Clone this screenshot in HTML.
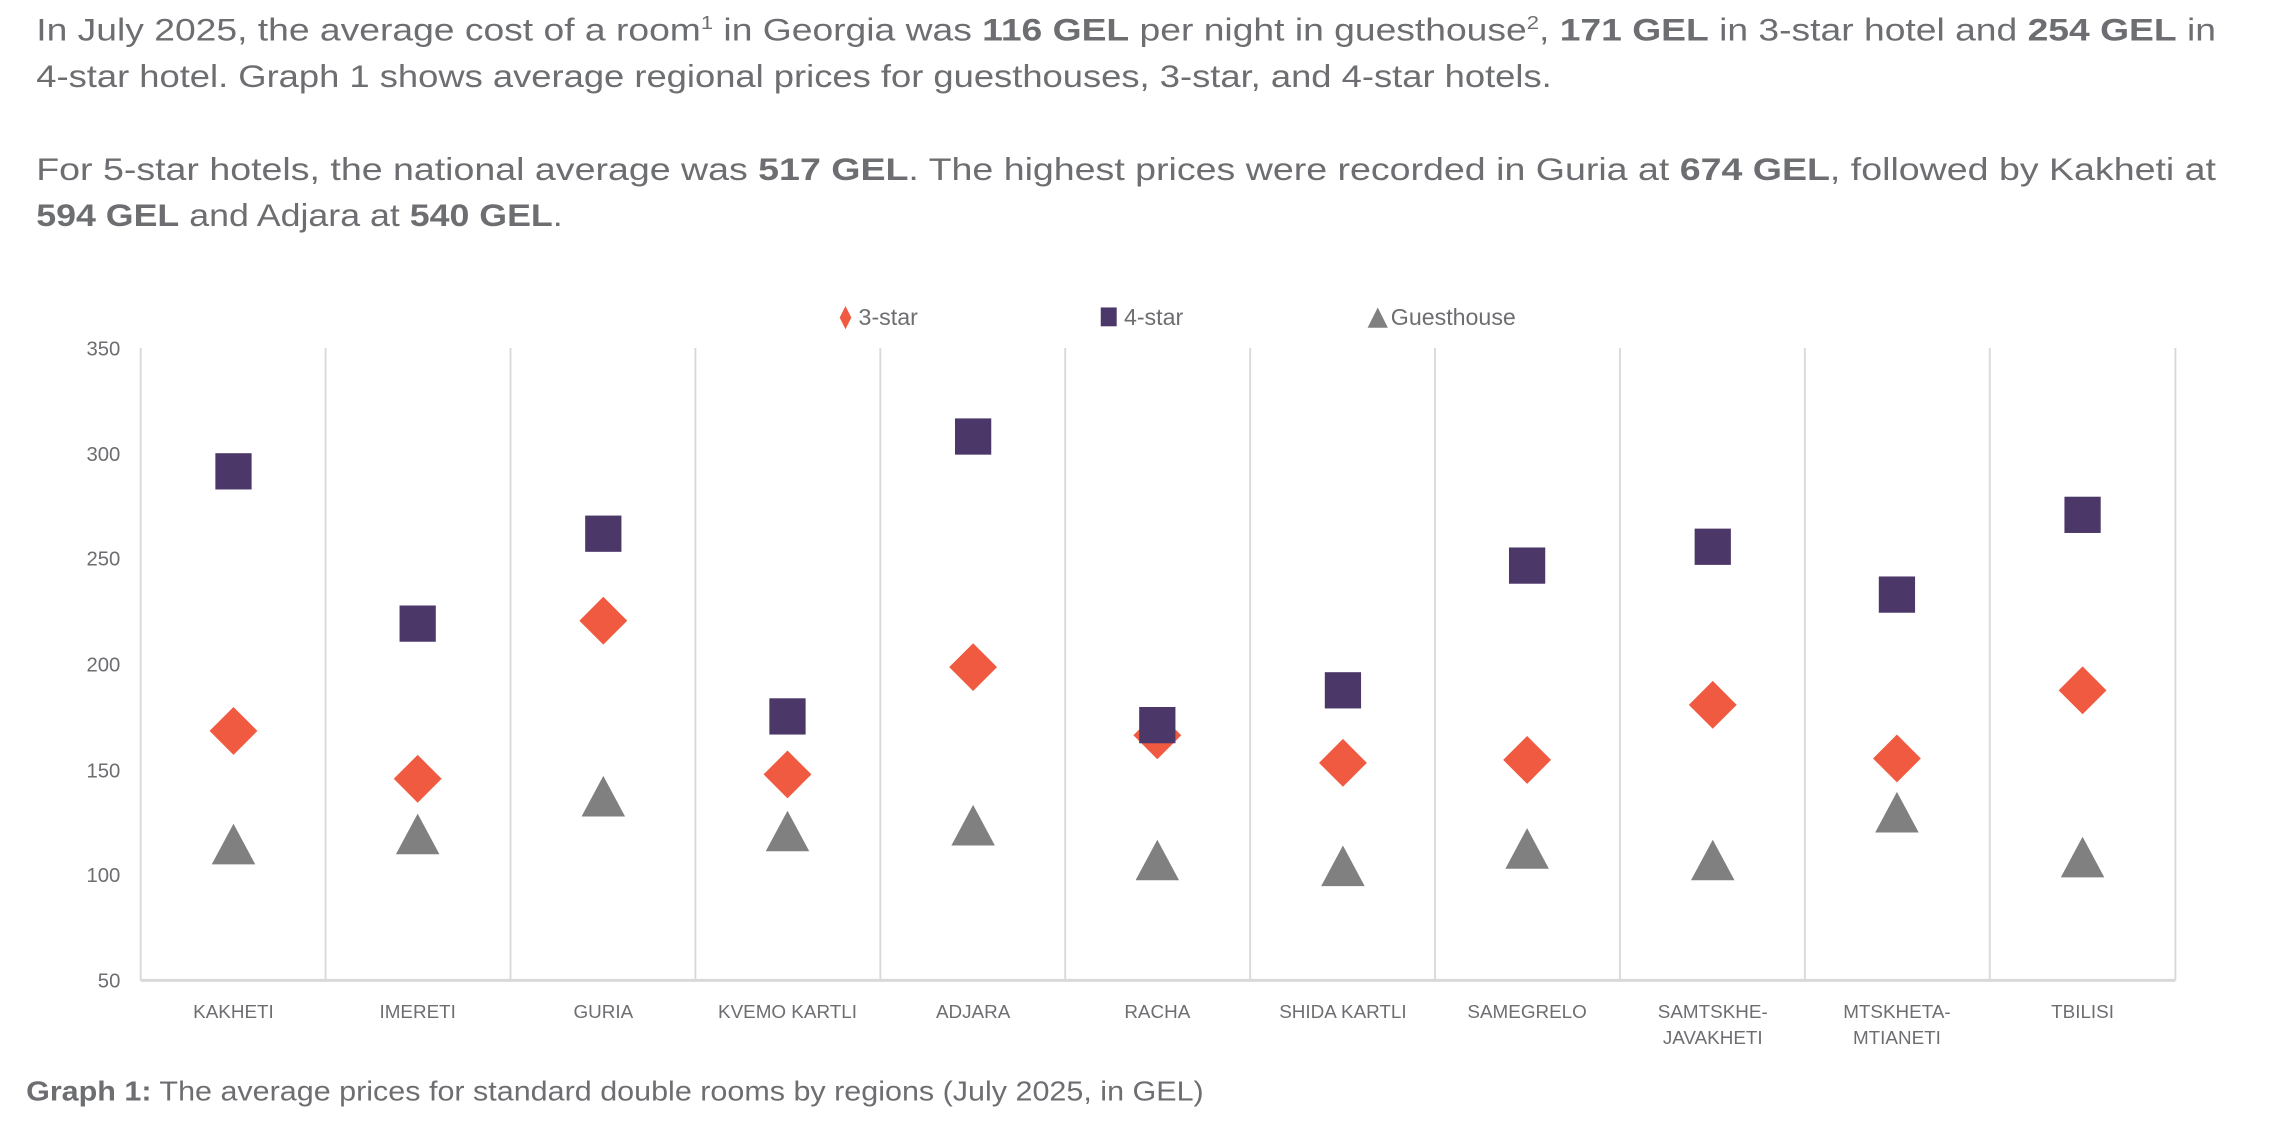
<!DOCTYPE html>
<html><head><meta charset="utf-8"><style>
html,body{margin:0;padding:0;background:#fff;}
svg{display:block;}
text{font-family:"Liberation Sans",sans-serif;fill:#6d6e71;}
</style></head><body>
<svg width="2274" height="1137" viewBox="0 0 1568 784" xmlns="http://www.w3.org/2000/svg">
<g font-size="22">
<text x="25" y="28" textLength="1503" lengthAdjust="spacingAndGlyphs">In July 2025, the average cost of a room<tspan font-size="13" dy="-8">1</tspan><tspan dy="8"> in Georgia was </tspan><tspan font-weight="bold">116 GEL</tspan> per night in guesthouse<tspan font-size="13" dy="-8">2</tspan><tspan dy="8">, </tspan><tspan font-weight="bold">171 GEL</tspan> in 3-star hotel and <tspan font-weight="bold">254 GEL</tspan> in</text>
<text x="25" y="60" textLength="1045" lengthAdjust="spacingAndGlyphs">4-star hotel. Graph 1 shows average regional prices for guesthouses, 3-star, and 4-star hotels.</text>
<text x="25" y="124" textLength="1503" lengthAdjust="spacingAndGlyphs">For 5-star hotels, the national average was <tspan font-weight="bold">517 GEL</tspan>. The highest prices were recorded in Guria at <tspan font-weight="bold">674 GEL</tspan>, followed by Kakheti at</text>
<text x="25" y="156" textLength="363" lengthAdjust="spacingAndGlyphs"><tspan font-weight="bold">594 GEL</tspan> and Adjara at <tspan font-weight="bold">540 GEL</tspan>.</text>
</g>
<!-- legend -->
<g font-size="16">
<polygon points="583,211 587,219 583,227 579,219" fill="#f05a40"/>
<text x="592" y="224">3-star</text>
<rect x="759" y="212" width="11" height="13" fill="#4b3869"/>
<text x="775" y="224">4-star</text>
<polygon points="950,212 957,226 943,226" fill="#808080"/>
<text x="959" y="224">Guesthouse</text>
</g>
<!-- grid -->
<g stroke="#d9d9d9" stroke-width="1.3">
<line x1="97" y1="240" x2="97" y2="676"/>
<line x1="224.5" y1="240" x2="224.5" y2="676"/>
<line x1="352" y1="240" x2="352" y2="676"/>
<line x1="479.5" y1="240" x2="479.5" y2="676"/>
<line x1="607" y1="240" x2="607" y2="676"/>
<line x1="734.5" y1="240" x2="734.5" y2="676"/>
<line x1="862" y1="240" x2="862" y2="676"/>
<line x1="989.5" y1="240" x2="989.5" y2="676"/>
<line x1="1117" y1="240" x2="1117" y2="676"/>
<line x1="1244.5" y1="240" x2="1244.5" y2="676"/>
<line x1="1372" y1="240" x2="1372" y2="676"/>
<line x1="1500" y1="240" x2="1500" y2="676"/>
<line x1="97" y1="676" x2="1500" y2="676" stroke-width="2"/>
</g>
<g font-size="14" text-anchor="end">
<text x="83" y="245">350</text>
<text x="83" y="318">300</text>
<text x="83" y="390">250</text>
<text x="83" y="463">200</text>
<text x="83" y="536">150</text>
<text x="83" y="608">100</text>
<text x="83" y="681">50</text>
</g>
<g font-size="13" text-anchor="middle">
<text x="161" y="702">KAKHETI</text>
<text x="288" y="702">IMERETI</text>
<text x="416" y="702">GURIA</text>
<text x="543" y="702">KVEMO KARTLI</text>
<text x="671" y="702">ADJARA</text>
<text x="798" y="702">RACHA</text>
<text x="926" y="702">SHIDA KARTLI</text>
<text x="1053" y="702">SAMEGRELO</text>
<text x="1181" y="702">SAMTSKHE-</text>
<text x="1181" y="720">JAVAKHETI</text>
<text x="1308" y="702">MTSKHETA-</text>
<text x="1308" y="720">MTIANETI</text>
<text x="1436" y="702">TBILISI</text>
</g>
<defs>
<rect id="sq" x="-12.5" y="-12.5" width="25" height="25" fill="#4b3869"/>
<polygon id="dm" points="0,-16.5 16.5,0 0,16.5 -16.5,0" fill="#f05a40"/>
<polygon id="tr" points="0,-15 15,13 -15,13" fill="#808080"/>
</defs>
<g>
<use href="#tr" x="161" y="583"/><use href="#dm" x="161" y="504"/><use href="#sq" x="161" y="325"/>
<use href="#tr" x="288" y="576"/><use href="#dm" x="288" y="537"/><use href="#sq" x="288" y="430"/>
<use href="#tr" x="416" y="550"/><use href="#dm" x="416" y="428"/><use href="#sq" x="416" y="368"/>
<use href="#tr" x="543" y="574"/><use href="#dm" x="543" y="534"/><use href="#sq" x="543" y="494"/>
<use href="#tr" x="671" y="570"/><use href="#dm" x="671" y="460"/><use href="#sq" x="671" y="301"/>
<use href="#tr" x="798" y="594"/><use href="#dm" x="798" y="507"/><use href="#sq" x="798" y="500"/>
<use href="#tr" x="926" y="598"/><use href="#dm" x="926" y="526"/><use href="#sq" x="926" y="476"/>
<use href="#tr" x="1053" y="586"/><use href="#dm" x="1053" y="524"/><use href="#sq" x="1053" y="390"/>
<use href="#tr" x="1181" y="594"/><use href="#dm" x="1181" y="486"/><use href="#sq" x="1181" y="377"/>
<use href="#tr" x="1308" y="561"/><use href="#dm" x="1308" y="523"/><use href="#sq" x="1308" y="410"/>
<use href="#tr" x="1436" y="592"/><use href="#dm" x="1436" y="476"/><use href="#sq" x="1436" y="355"/>
</g>
<text x="18" y="759" font-size="19" textLength="812" lengthAdjust="spacingAndGlyphs"><tspan font-weight="bold">Graph 1:</tspan> The average prices for standard double rooms by regions (July 2025, in GEL)</text>
</svg>
</body></html>
